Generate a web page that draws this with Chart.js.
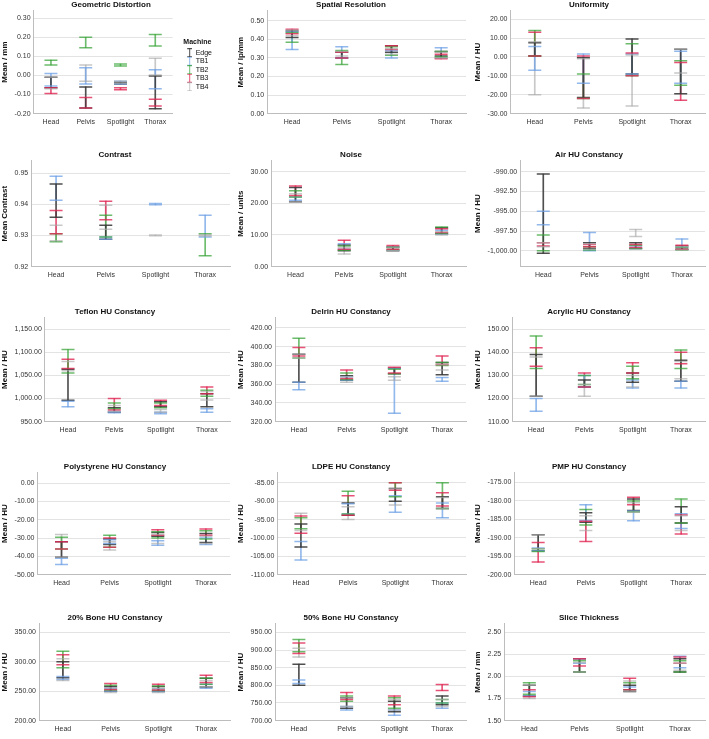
<!DOCTYPE html>
<html>
<head>
<meta charset="utf-8">
<script src="https://cdn.jsdelivr.net/npm/chart.js@4.4.1/dist/chart.umd.min.js"></script>
<style>
  html, body { margin: 0; padding: 0; background: #fff; }
  #wrap { position: relative; width: 709px; height: 739px; overflow: hidden; }
  .panel { position: absolute; }
</style>
</head>
<body>
<div id="wrap"></div>
<script>
const categories = ["Head", "Pelvis", "Spotlight", "Thorax"];
const machines = ["Edge", "TB1", "TB2", "TB3", "TB4"];
const machineColors = [
  "rgba(60,60,60,0.9)",
  "rgba(110,160,230,0.75)",
  "rgba(60,165,60,0.75)",
  "rgba(225,40,85,0.8)",
  "rgba(170,170,170,0.65)"
];

// [low, high] per category (Head, Pelvis, Spotlight, Thorax), one row per machine (Edge, TB1, TB2, TB3, TB4)
const geometricDistortion = [
  [[-0.065, -0.01], [-0.17, -0.06], [-0.045, -0.035], [-0.175, 0.0]],
  [[-0.055, 0.01], [-0.045, 0.04], [-0.045, -0.03], [-0.07, 0.03]],
  [[0.055, 0.08], [0.145, 0.20], [0.05, 0.06], [0.155, 0.215]],
  [[-0.095, -0.065], [-0.17, -0.115], [-0.075, -0.065], [-0.16, -0.125]],
  [[-0.07, -0.01], [-0.03, 0.055], [-0.04, -0.03], [0.0, 0.09]]
];
const spatialResolution = [
  [[0.41, 0.445], [0.30, 0.33], [0.33, 0.365], [0.31, 0.335]],
  [[0.345, 0.44], [0.30, 0.36], [0.30, 0.34], [0.30, 0.355]],
  [[0.385, 0.435], [0.265, 0.34], [0.315, 0.36], [0.305, 0.335]],
  [[0.43, 0.455], [0.30, 0.33], [0.345, 0.365], [0.295, 0.32]],
  [[0.42, 0.45], [0.31, 0.335], [0.32, 0.35], [0.30, 0.33]]
];
const uniformity = [
  [[0.5, 7.5], [-21.5, -0.5], [-9, 9.5], [-19.5, 4]],
  [[-7, 5.5], [-14, 1.5], [-9, 1.5], [-14, 3]],
  [[0.5, 14], [-22, -9], [-10, 7], [-15, -2]],
  [[0.5, 13], [-22, 0.5], [-10, 2], [-23, -3]],
  [[-20, 8], [-27, -1], [-26, 1], [-8.5, 4]]
];
const contrast = [
  [[0.9358, 0.9465], [0.9288, 0.9333], null, null],
  [[0.9413, 0.949], [0.9288, 0.9295], [0.9398, 0.9402], [0.9295, 0.9365]],
  [[0.928, 0.9305], [0.9295, 0.9365], null, [0.9235, 0.9305]],
  [[0.9305, 0.938], [0.935, 0.941], null, null],
  [[0.9283, 0.9333], [0.932, 0.9397], [0.9299, 0.9301], [0.9298, 0.9302]]
];
const noise = [
  [[20.5, 25], [5, 6.8], [5, 6.3], [10.5, 12.3]],
  [[21, 22], [5.5, 7.2], [5.2, 6], [10.2, 11.5]],
  [[22, 24], [5.2, 6.5], [5.3, 6], [10.5, 12.5]],
  [[22.5, 25.5], [5.5, 8.3], [5.5, 6.7], [10.8, 12]],
  [[20.5, 23], [4, 6], [5, 6.2], [10, 11]]
];
const airHU = [
  [[-1000.3, -990.3], [-999.7, -999], [-999.7, -999], [-999.8, -999.4]],
  [[-996.7, -995], [-1000, -997.7], [-999.7, -999.4], [-999.6, -998.5]],
  [[-1000, -998], [-999.9, -999.5], [-999.7, -999.3], [-999.9, -999.6]],
  [[-999.4, -999], [-999.5, -999.2], [-999.6, -999.2], [-999.8, -999.3]],
  [[-999.5, -999], [-999.8, -999.1], [-998.2, -997.3], [-999.9, -999.5]]
];
const teflonHU = [
  [[996, 1063], [970, 980], [982, 993], [982, 1010]],
  [[982, 994], [969, 972], [967, 970], [970, 978]],
  [[1055, 1106], [978, 990], [980, 990], [1005, 1018]],
  [[1065, 1085], [975, 1000], [985, 996], [1010, 1025]],
  [[1060, 1080], [972, 985], [970, 976], [997, 1015]]
];
const delrinHU = [
  [[362, 392], [364, 369], [371, 377], [370, 383]],
  [[354, 362], [364, 368], [329, 377], [363, 367]],
  [[388, 409], [365, 372], [371, 376], [380, 383]],
  [[390, 399], [366, 375], [372, 378], [381, 390]],
  [[388, 392], [362, 368], [364, 368], [375, 381]]
];
const acrylicHU = [
  [[121, 139], [125, 128], [127, 131], [127.5, 136.5]],
  [[114.5, 120], [125, 130], [124.5, 128], [124.5, 127.5]],
  [[133, 147], [126, 130], [128.5, 134], [133, 141]],
  [[134, 142], [125, 131], [131, 135.5], [135, 140]],
  [[121, 138], [121, 126], [125, 130], [128.5, 136]]
];
const polystyreneHU = [
  [[-40.5, -32], [-33.5, -30.5], [-29, -27], [-32.5, -27.5]],
  [[-44.5, -41], [-33, -31], [-34, -31.5], [-33.5, -30]],
  [[-36, -29.5], [-35, -28.5], [-30, -26.5], [-30.5, -26]],
  [[-36, -32], [-35, -30], [-28.5, -25.5], [-28.5, -25]],
  [[-40.5, -28], [-36.5, -32], [-33, -28], [-33, -29]]
];
const ldpeHU = [
  [[-102.5, -96.2], [-93.8, -90.5], [-90, -86.5], [-92, -88.8]],
  [[-106, -101], [-93.5, -90.7], [-93, -88.5], [-94.5, -90.5]],
  [[-97.5, -94.5], [-93.5, -87.3], [-88.8, -85], [-92, -85]],
  [[-98.7, -94], [-93.8, -88.5], [-87, -85], [-91.3, -87.7]],
  [[-98, -93.3], [-95, -91.5], [-91, -86.5], [-92, -89]]
];
const pmpHU = [
  [[-193.5, -189.2], [-185.8, -183.2], [-182.6, -179.5], [-186, -181.6]],
  [[-193.5, -192.8], [-185.3, -181], [-185.4, -182.7], [-187.5, -183.5]],
  [[-193.7, -193], [-186.5, -182.3], [-183, -180], [-186, -179.5]],
  [[-196.6, -191.3], [-191, -185.5], [-181, -179], [-189, -183.8]],
  [[-193, -189.2], [-188, -184], [-183.1, -180.5], [-188, -184]]
];
const bone20HU = [
  [[273, 300], [250, 258], [250, 258], [257, 272]],
  [[270, 275], [250, 255], [249, 254], [255, 262]],
  [[290, 318], [252, 260], [251, 259], [262, 272]],
  [[295, 312], [253, 263], [252, 262], [265, 277]],
  [[268, 305], [248, 256], [248, 255], [258, 268]]
];
const bone50HU = [
  [[800, 860], [735, 765], [725, 755], [745, 770]],
  [[805, 815], [730, 740], [715, 730], [735, 750]],
  [[895, 930], [755, 770], [735, 765], [750, 760]],
  [[890, 920], [760, 780], [745, 770], [785, 802]],
  [[880, 905], [740, 765], [730, 760], [740, 760]]
];
const sliceThickness = [
  [[1.78, 1.90], [2.05, 2.20], [1.83, 1.90], [2.05, 2.20]],
  [[1.78, 1.83], [2.15, 2.20], [1.85, 1.88], [2.10, 2.23]],
  [[1.80, 1.93], [2.05, 2.18], [1.85, 1.93], [2.05, 2.18]],
  [[1.77, 1.85], [2.12, 2.20], [1.85, 1.98], [2.15, 2.22]],
  [[1.75, 1.90], [2.05, 2.16], [1.83, 1.95], [2.07, 2.15]]
];

// y tick values per panel
const ticksGeo = [-0.2, -0.1, 0, 0.1, 0.2, 0.3];
const ticksSpatial = [0, 0.1, 0.2, 0.3, 0.4, 0.5];
const ticksUniformity = [-30, -20, -10, 0, 10, 20];
const ticksContrast = [0.92, 0.93, 0.94, 0.95];
const ticksNoise = [0, 10, 20, 30];
const ticksAir = [-1000, -997.5, -995, -992.5, -990];
const ticksTeflon = [950, 1000, 1050, 1100, 1150];
const ticksDelrin = [320, 340, 360, 380, 400, 420];
const ticksAcrylic = [110, 120, 130, 140, 150];
const ticksPoly = [-50, -40, -30, -20, -10, 0];
const ticksLdpe = [-110, -105, -100, -95, -90, -85];
const ticksPmp = [-200, -195, -190, -185, -180, -175];
const ticksBone20 = [200, 250, 300, 350];
const ticksBone50 = [700, 750, 800, 850, 900, 950];
const ticksSlice = [1.5, 1.75, 2.0, 2.25, 2.5];

const panels = [
  { title: "Geometric Distortion", yTitle: "Mean / mm", values: geometricDistortion, ticks: ticksGeo, min: -0.2, max: 0.34 },
  { title: "Spatial Resolution", yTitle: "Mean / lp/mm", values: spatialResolution, ticks: ticksSpatial, min: 0, max: 0.555 },
  { title: "Uniformity", yTitle: "Mean / HU", values: uniformity, ticks: ticksUniformity, min: -30, max: 24.5 },
  { title: "Contrast", yTitle: "Mean Contrast", values: contrast, ticks: ticksContrast, min: 0.92, max: 0.954 },
  { title: "Noise", yTitle: "Mean / units", values: noise, ticks: ticksNoise, min: 0, max: 33.5 },
  { title: "Air HU Constancy", yTitle: "Mean / HU", values: airHU, ticks: ticksAir, min: -1002, max: -988.6 },
  { title: "Teflon HU Constancy", yTitle: "Mean / HU", values: teflonHU, ticks: ticksTeflon, min: 950, max: 1175 },
  { title: "Delrin HU Constancy", yTitle: "Mean / HU", values: delrinHU, ticks: ticksDelrin, min: 320, max: 431 },
  { title: "Acrylic HU Constancy", yTitle: "Mean / HU", values: acrylicHU, ticks: ticksAcrylic, min: 110, max: 155 },
  { title: "Polystyrene HU Constancy", yTitle: "Mean / HU", values: polystyreneHU, ticks: ticksPoly, min: -50, max: 5.8 },
  { title: "LDPE HU Constancy", yTitle: "Mean / HU", values: ldpeHU, ticks: ticksLdpe, min: -110, max: -82.2 },
  { title: "PMP HU Constancy", yTitle: "Mean / HU", values: pmpHU, ticks: ticksPmp, min: -200, max: -172.3 },
  { title: "20% Bone HU Constancy", yTitle: "Mean / HU", values: bone20HU, ticks: ticksBone20, min: 200, max: 365 },
  { title: "50% Bone HU Constancy", yTitle: "Mean / HU", values: bone50HU, ticks: ticksBone50, min: 700, max: 975 },
  { title: "Slice Thickness", yTitle: "Mean / mm", values: sliceThickness, ticks: ticksSlice, min: 1.5, max: 2.6 }
];

// layout of the grid
const colLeft = [0, 236, 473];
const colWidth = [232, 232, 234];
const rowTop = [0, 150, 307, 462, 613];
const rowHeight = [130, 133, 131, 129, 124];

Chart.defaults.font.family = "'Liberation Sans', Arial, sans-serif";
Chart.defaults.font.size = 7;
Chart.defaults.color = "#333";

const fmt = v => Number(v).toLocaleString("en-US", { minimumFractionDigits: 2, maximumFractionDigits: 2 });

// I-beam icons for the legend, drawn at the right of an 18px wide box
const icons = machineColors.map(c => {
  const cv = document.createElement("canvas");
  cv.width = 18; cv.height = 9;
  const g = cv.getContext("2d");
  g.strokeStyle = c;
  g.lineWidth = 1;
  g.beginPath();
  g.moveTo(13, 0.5); g.lineTo(18, 0.5);
  g.moveTo(13, 8.5); g.lineTo(18, 8.5);
  g.moveTo(15.5, 0); g.lineTo(15.5, 9);
  g.stroke();
  return cv;
});

// error bar caps on top of the floating bars
const capsPlugin = {
  id: "caps",
  afterDatasetsDraw(chart) {
    const ctx = chart.ctx;
    chart.data.datasets.forEach((ds, i) => {
      const meta = chart.getDatasetMeta(i);
      meta.data.forEach((bar, j) => {
        if (ds.data[j] == null) return;
        const { x, y, base } = bar.getProps(["x", "y", "base"], true);
        ctx.save();
        ctx.strokeStyle = ds.backgroundColor;
        ctx.lineWidth = 1.5;
        ctx.beginPath();
        ctx.moveTo(x - 6.5, y); ctx.lineTo(x + 6.5, y);
        ctx.moveTo(x - 6.5, base); ctx.lineTo(x + 6.5, base);
        ctx.stroke();
        ctx.restore();
      });
    });
  }
};

const wrap = document.getElementById("wrap");

panels.forEach((p, idx) => {
  const col = idx % 3, row = Math.floor(idx / 3);
  const div = document.createElement("div");
  div.className = "panel";
  div.style.left = colLeft[col] + "px";
  div.style.top = rowTop[row] + "px";
  const canvas = document.createElement("canvas");
  canvas.width = colWidth[col];
  canvas.height = rowHeight[row];
  div.appendChild(canvas);
  wrap.appendChild(div);

  const datasets = machines.map((m, i) => ({
    label: m,
    data: p.values[i],
    backgroundColor: machineColors[i],
    borderWidth: 0,
    barThickness: 1,
    grouped: false
  }));

  const legend = idx === 0 ? {
    display: true,
    position: "right",
    align: "center",
    title: {
      display: true, text: "Machine", position: "center",
      font: { size: 7, weight: "bold" }, color: "#111",
      padding: { top: 0, bottom: 1 }
    },
    labels: {
      usePointStyle: true, pointStyleWidth: 18, boxHeight: 7, padding: 1.5,
      font: { size: 7 }, color: "#333",
      generateLabels: chart => chart.data.datasets.map((ds, i) => ({
        text: ds.label, pointStyle: icons[i], fillStyle: ds.backgroundColor,
        strokeStyle: ds.backgroundColor, lineWidth: 0, hidden: false, datasetIndex: i
      }))
    }
  } : { display: false };

  new Chart(canvas, {
    type: "bar",
    data: { labels: categories, datasets },
    plugins: [capsPlugin],
    options: {
      responsive: false,
      animation: false,
      devicePixelRatio: 1,
      layout: { padding: { left: 0, right: idx === 0 ? 10 : 2, top: 0, bottom: 0 } },
      plugins: {
        title: {
          display: true, text: p.title,
          font: { size: 8, weight: "bold" }, color: "#111",
          padding: { top: 0, bottom: 1 }
        },
        legend,
        tooltip: { enabled: false }
      },
      scales: {
        x: {
          grid: { display: false, drawTicks: false },
          border: { color: "#bdbdbd" },
          ticks: { color: "#333", padding: 4 }
        },
        y: {
          min: p.min, max: p.max,
          afterBuildTicks: s => { s.ticks = p.ticks.map(v => ({ value: v })); },
          grid: { color: "#e3e3e3", drawTicks: false },
          border: { color: "#bdbdbd" },
          ticks: { color: "#333", padding: 3, callback: v => fmt(v) },
          title: {
            display: true, text: p.yTitle, color: "#111",
            font: { size: 8, weight: "bold" },
            padding: { top: 0, bottom: 2 }
          }
        }
      }
    }
  });
});
</script>
</body>
</html>
